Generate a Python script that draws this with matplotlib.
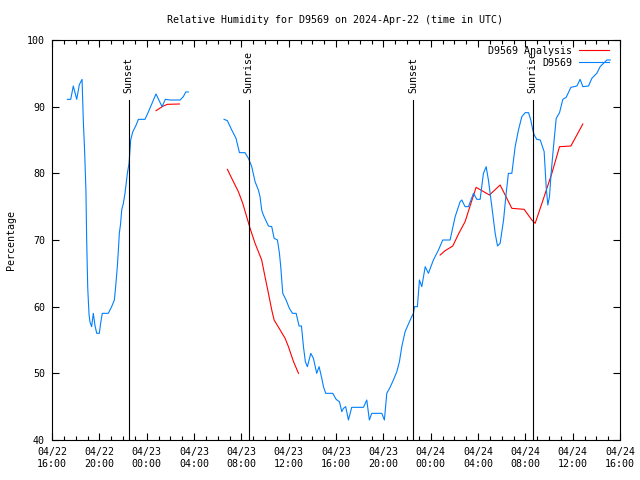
import numpy as np
import matplotlib
matplotlib.use('Agg')
import matplotlib.pyplot as plt
import matplotlib.dates as mdates

# hours after 2024-04-22 16:00 UTC, values in percent
blue_a_hours = [1.30, 1.58, 1.80, 2.09, 2.31, 2.54, 2.65, 2.76, 2.87, 2.93, 3.02, 3.13,
                3.21, 3.35, 3.49, 3.63, 3.78, 4.00, 4.11, 4.25, 4.76, 5.04, 5.27, 5.38,
                5.52, 5.61, 5.69, 5.80, 5.89, 6.03, 6.17, 6.37, 6.51, 6.65, 6.82, 7.10,
                7.30, 7.86, 8.14, 8.79, 9.30, 9.58, 9.97, 10.82, 11.10, 11.30, 11.52]
blue_a_vals = [91.1, 91.1, 93.1, 91.1, 93.3, 94.1, 87.7, 83.2, 77.2, 70.0, 62.8, 58.8,
               57.7, 57.0, 59.0, 57.2, 56.0, 56.0, 57.5, 59.0, 59.0, 60.0, 61.0, 63.0,
               66.0, 68.5, 71.0, 72.5, 74.5, 75.5, 77.0, 80.0, 81.5, 85.0, 86.2, 87.2,
               88.1, 88.1, 89.2, 91.9, 90.0, 91.1, 91.0, 91.0, 91.5, 92.2, 92.2]

blue_b_hours = [14.54, 14.82, 15.19, 15.55, 15.84, 16.31, 16.60, 16.88, 17.16, 17.44,
                17.58, 17.72, 17.86, 18.29, 18.57, 18.77, 19.05, 19.22, 19.33, 19.50,
                19.78, 20.06, 20.32, 20.63, 20.88, 21.08, 21.25, 21.41, 21.58, 21.87,
                22.09, 22.37, 22.57, 22.80, 22.94, 23.13, 23.73, 24.01, 24.29, 24.49,
                24.63, 24.82, 25.05, 25.33, 26.32, 26.60, 26.82, 27.02, 27.87, 28.09,
                28.29, 28.57, 28.85, 29.14, 29.36, 29.56, 29.84, 30.12, 30.40, 30.54,
                30.63, 30.88, 31.05, 31.25, 31.54, 31.81, 32.23, 32.66, 33.02, 33.64,
                34.07, 34.49, 34.63, 34.91, 35.19, 35.62, 35.90, 36.18, 36.46, 36.69,
                36.88, 37.17, 37.45, 37.65, 37.87, 38.16, 38.38, 38.57, 38.86, 39.14,
                39.42, 39.70, 39.99, 40.27, 40.46, 40.63, 40.75, 40.97, 41.26, 41.59,
                41.76, 41.90, 42.04, 42.18, 42.38, 42.61, 42.89, 43.17, 43.45, 43.85,
                44.36, 44.63, 44.86, 45.34, 45.62, 46.04, 46.32, 46.66, 46.89, 47.17]
blue_b_vals = [88.1, 87.9, 86.5, 85.25, 83.1, 83.1, 82.25, 81.0, 78.75, 77.5,
               76.5, 74.5, 73.75, 72.1, 72.0, 70.25, 70.0, 68.0, 66.0, 62.0,
               61.0, 59.75, 59.0, 59.0, 57.1, 57.1, 54.0, 51.75, 51.0, 53.0,
               52.25, 50.0, 51.0, 49.25, 48.0, 47.0, 47.0, 46.1, 45.75, 44.25,
               44.75, 45.0, 43.0, 44.9, 44.9, 46.0, 43.0, 44.0, 44.0, 43.0,
               47.0, 47.9, 49.0, 50.25, 51.75, 54.0, 56.25, 57.4, 58.5, 59.0,
               60.0, 60.0, 64.0, 63.0, 66.0, 65.0, 67.0, 68.5, 70.0, 70.0,
               73.5, 75.75, 76.0, 75.0, 75.0, 77.0, 76.1, 76.1, 80.0, 81.0,
               79.0, 75.0, 71.0, 69.1, 69.5, 73.0, 77.0, 80.0, 80.0, 84.0,
               86.5, 88.5, 89.1, 89.1, 88.0, 86.5, 85.75, 85.1, 85.0, 83.25,
               78.0, 75.25, 76.5, 80.0, 84.0, 88.25, 89.1, 91.1, 91.4, 92.9,
               93.1, 94.1, 93.0, 93.1, 94.25, 95.0, 96.0, 96.6, 97.0, 97.0]

red_a_hours = [8.79, 9.41, 9.75, 10.76]
red_a_vals = [89.4, 90.1, 90.35, 90.4]
red_b_hours = [14.82, 15.19, 15.75, 16.12, 16.45, 16.74, 17.16, 17.72, 18.00,
               18.29, 18.57, 18.77, 19.28, 19.70, 19.98, 20.41, 20.83]
red_b_vals = [80.6, 79.25, 77.25, 75.5, 73.5, 71.75, 69.5, 67.0, 64.5,
              62.0, 59.5, 58.0, 56.5, 55.25, 54.0, 51.75, 50.0]
red_c_hours = [32.80, 33.22, 33.87, 34.35, 34.91, 35.33, 35.84, 36.97, 37.87,
               38.86, 39.90, 40.55, 40.83, 41.59, 42.24, 42.89, 43.85, 44.86]
red_c_vals = [67.75, 68.4, 69.1, 70.9, 72.75, 75.1, 77.9, 76.75, 78.25,
              74.75, 74.6, 73.0, 72.5, 76.5, 80.0, 84.0, 84.1, 87.4]

sun_times = ['2024-04-22T22:28', '2024-04-23T08:37', '2024-04-23T22:31', '2024-04-24T08:38']
sun_labels = ['Sunset', 'Sunrise', 'Sunset', 'Sunrise']

start = np.datetime64('2024-04-22T16:00')


def to_time(hours):
    return start + (np.array(hours) * 3600).astype('timedelta64[s]')


FONT = 'DejaVu Sans Mono'
FS = 7.2
plt.rcParams['font.family'] = FONT
plt.rcParams['font.size'] = FS

fig = plt.figure(figsize=(6.4, 4.8), dpi=100)
ax = fig.add_axes([52 / 640, 40 / 480, 568 / 640, 400 / 480])

blue = '#0080ff'
red = '#ff0000'
ax.plot(to_time(red_a_hours), red_a_vals, color=red, lw=0.8, label='D9569 Analysis')
ax.plot(to_time(red_b_hours), red_b_vals, color=red, lw=0.8)
ax.plot(to_time(red_c_hours), red_c_vals, color=red, lw=0.8)
ax.plot(to_time(blue_a_hours), blue_a_vals, color=blue, lw=0.8, label='D9569')
ax.plot(to_time(blue_b_hours), blue_b_vals, color=blue, lw=0.8)

for t, lab in zip(sun_times, sun_labels):
    tt = np.datetime64(t)
    ax.plot([tt, tt], [40, 91], color='black', lw=0.8)
    ax.text(tt, 92, lab, rotation=90, ha='center', va='bottom', fontsize=FS)

ax.set_xlim(start, start + np.timedelta64(48, 'h'))
ax.set_ylim(40, 100)
ax.set_yticks(range(40, 101, 10))
ax.xaxis.set_major_locator(mdates.HourLocator(byhour=range(0, 24, 4)))
ax.xaxis.set_minor_locator(mdates.HourLocator())
ax.xaxis.set_major_formatter(mdates.DateFormatter('%m/%d\n%H:%M'))
ax.tick_params(which='both', direction='in', top=True, right=True, width=0.8)
ax.tick_params(which='major', length=5, pad=5)
ax.tick_params(which='minor', length=3)
for s in ax.spines.values():
    s.set_linewidth(0.8)

ax.set_ylabel('Percentage', fontsize=FS, labelpad=8)
fig.text(335 / 640, 1 - 20 / 480, 'Relative Humidity for D9569 on 2024-Apr-22 (time in UTC)',
         ha='center', va='center', fontsize=FS)

ax.legend(loc='upper right', bbox_to_anchor=(1.0 - 6 / 568, 1.0 - 1 / 400), frameon=False,
          markerfirst=False, handlelength=3.0, handletextpad=0.7, labelspacing=0.2,
          borderaxespad=0.3, borderpad=0.2, fontsize=FS)

fig.savefig('out.png', dpi=100)
